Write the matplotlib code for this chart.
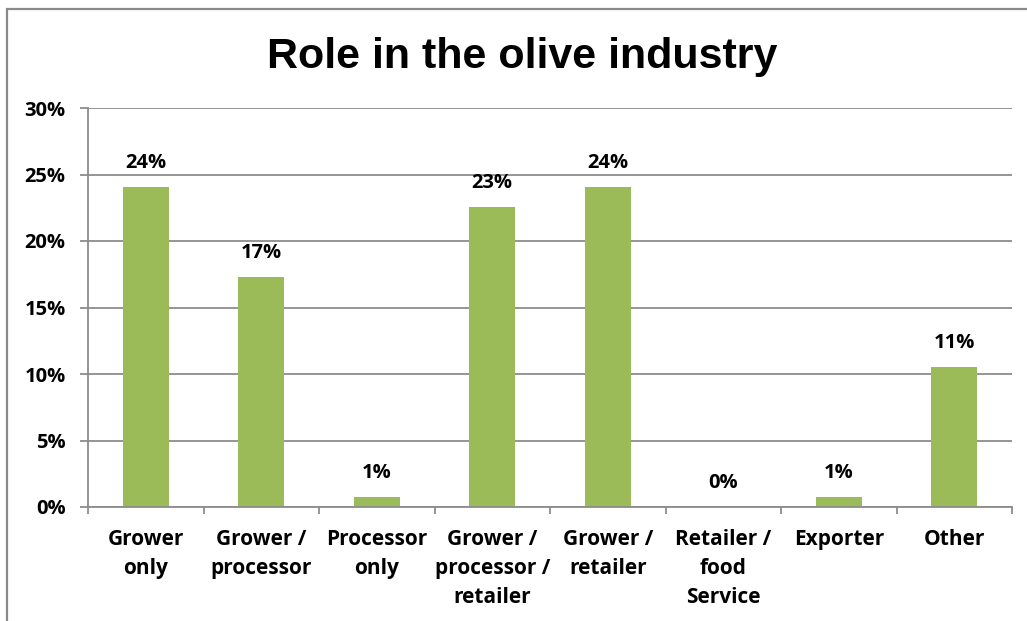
import matplotlib.pyplot as plt
from matplotlib.patches import Rectangle
from matplotlib.ticker import FixedLocator, FuncFormatter

# Share of respondents by role (%)
roles = ["Grower\nonly", "Grower /\nprocessor", "Processor\nonly",
         "Grower /\nprocessor /\nretailer", "Grower /\nretailer",
         "Retailer /\nfood\nService", "Exporter", "Other"]
shares = [24.06, 17.29, 0.75, 22.56, 24.06, 0.0, 0.75, 10.53]
y_ticks = [0, 5, 10, 15, 20, 25, 30]

BAR = "#9bbb59"
GRID = "#8c8c8c"
LABEL_FONT = ["Open Sans", "DejaVu Sans"]


def main():
    fig = plt.figure(figsize=(10.27, 6.21), dpi=100)
    fig.patch.set_facecolor("white")

    # outer chart frame (cut off on the right and bottom)
    fig.add_artist(Rectangle((7 / 1027, -0.2), 2.0, (621 - 9) / 621 + 0.2,
                             transform=fig.transFigure, fill=False,
                             edgecolor="#8a8a8a", linewidth=1.6))

    ax = fig.add_axes([88 / 1027, 1 - 507 / 621, (1012 - 88) / 1027, (507 - 108) / 621])

    x = list(range(len(roles)))
    bars = ax.bar(x, shares, width=0.4, color=BAR, zorder=3)

    for rect, v in zip(bars, shares):
        ax.annotate(f"{v:.0f}%", (rect.get_x() + rect.get_width() / 2, v),
                    xytext=(0, 17.5), textcoords="offset points",
                    ha="center", va="center", fontsize=14.5,
                    fontweight="bold", family=LABEL_FONT)

    ax.set_xlim(-0.5, len(roles) - 0.5)
    ax.set_ylim(0, 30)
    ax.yaxis.set_major_locator(FixedLocator(y_ticks))
    ax.yaxis.set_major_formatter(FuncFormatter(lambda v, _: f"{v:.0f}%"))
    ax.grid(axis="y", color=GRID, linewidth=1.3, zorder=0)

    ax.set_xticks(x)
    ax.set_xticklabels(roles)
    ax.set_xticks([i - 0.5 for i in range(len(roles) + 1)], minor=True)
    ax.tick_params(axis="x", which="major", length=0, pad=15.5)
    ax.tick_params(axis="x", which="minor", length=5, width=1.3, color=GRID)
    ax.tick_params(axis="y", length=6, width=1.3, color=GRID, pad=10)

    for lbl in ax.get_yticklabels():
        lbl.set_family(LABEL_FONT)
        lbl.set_fontweight("bold")
        lbl.set_fontsize(14.5)
    for lbl in ax.get_xticklabels():
        lbl.set_family(LABEL_FONT)
        lbl.set_fontweight("bold")
        lbl.set_fontsize(15)
        lbl.set_linespacing(1.5)
        lbl.set_verticalalignment("top")

    for side in ("top", "right"):
        ax.spines[side].set_visible(False)
    for side in ("left", "bottom"):
        ax.spines[side].set_color(GRID)
        ax.spines[side].set_linewidth(1.3)
        ax.spines[side].set_zorder(4)

    fig.text(522 / 1027, 1 - 57 / 621, "Role in the olive industry",
             ha="center", va="center", fontsize=31, fontweight="bold",
             family=["Liberation Sans", "DejaVu Sans"])

    fig.savefig("out.png", dpi=100, facecolor="white")


if __name__ == "__main__":
    main()
